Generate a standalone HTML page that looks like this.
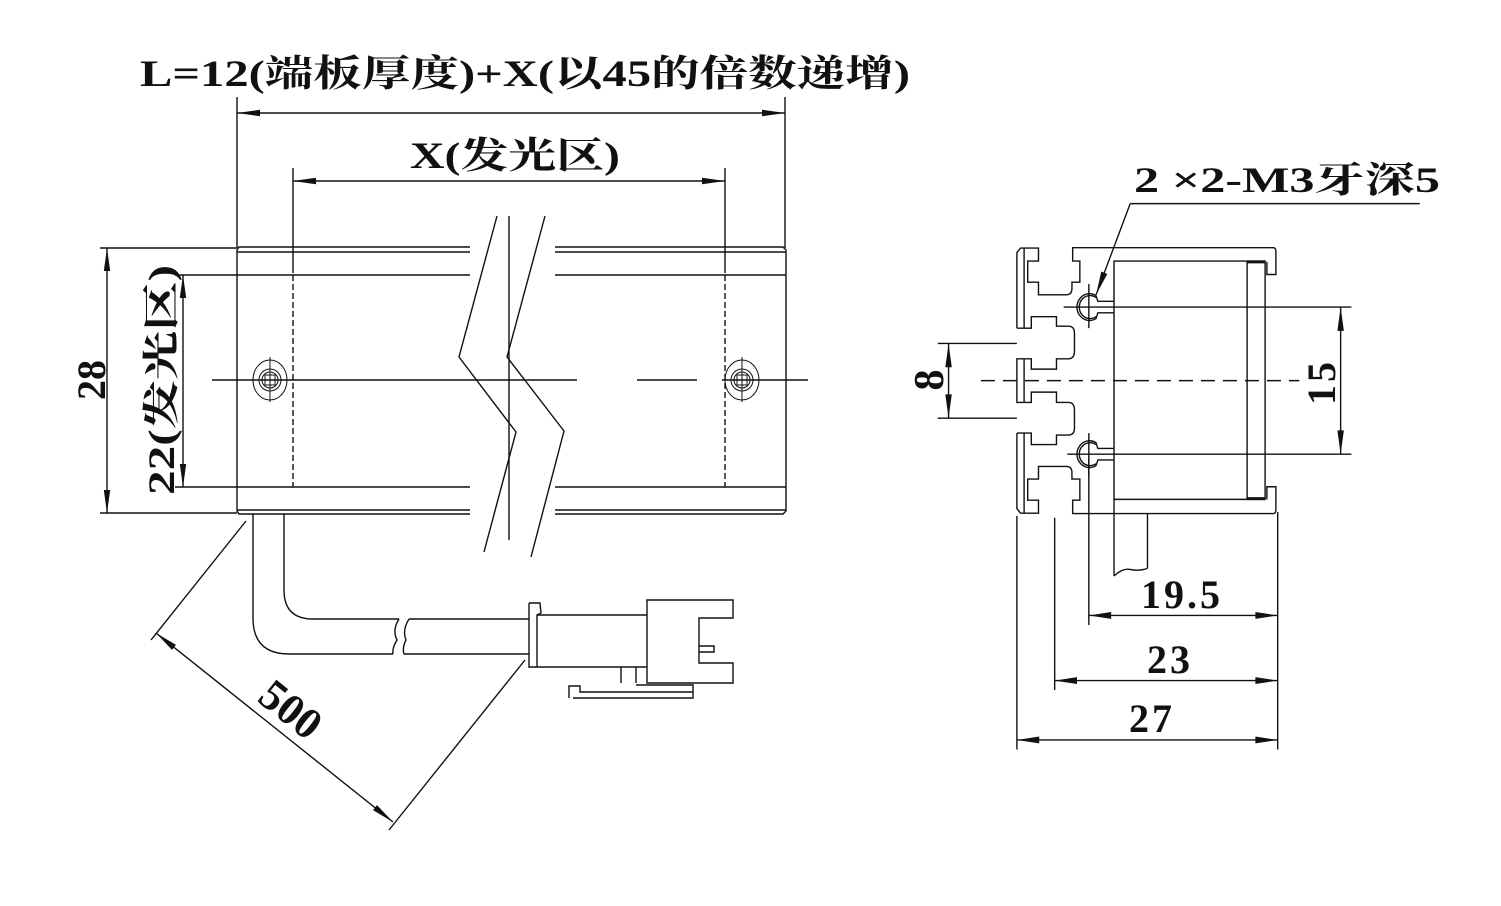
<!DOCTYPE html>
<html><head><meta charset="utf-8">
<style>
html,body{margin:0;padding:0;background:#fff;}
svg{display:block;}
text{font-family:"Liberation Serif","Noto Serif CJK SC",serif;font-weight:bold;fill:#111;}
</style></head>
<body>
<svg width="1501" height="906" viewBox="0 0 1501 906" xmlns="http://www.w3.org/2000/svg">
<defs>
<marker id="a" markerUnits="userSpaceOnUse" markerWidth="30" markerHeight="12" viewBox="0 -6 24 12" refX="23" refY="0" orient="auto-start-reverse">
<path d="M0,-3.2 L23,0 L0,3.2 Z" fill="#111"/></marker>
<marker id="az" markerUnits="userSpaceOnUse" markerWidth="80" markerHeight="30" viewBox="0 -15 64 30" refX="62" refY="0" orient="auto-start-reverse">
<path d="M0,-9 L62,0 L0,9 Z" fill="#111"/></marker>
</defs>
<g fill="none" stroke="#111" stroke-width="1.4">
<line x1="237" y1="97" x2="237" y2="248"/>
<line x1="785" y1="97" x2="785" y2="248"/>
<line x1="237" y1="113" x2="785" y2="113" marker-start="url(#a)" marker-end="url(#a)"/>
<line x1="293" y1="168" x2="293" y2="273"/>
<line x1="725" y1="168" x2="725" y2="273"/>
<line x1="293" y1="181" x2="725" y2="181" marker-start="url(#a)" marker-end="url(#a)"/>
<path d="M237,250 L239,247 L783,247 L786,250 L786,511 L783,514 L239,514 L237,511 Z"/>
<line x1="237" y1="252" x2="786" y2="252"/>
<line x1="237" y1="275" x2="786" y2="275"/>
<line x1="237" y1="487" x2="786" y2="487"/>
<line x1="237" y1="510" x2="786" y2="510"/>
<line x1="293" y1="275" x2="293" y2="487" stroke-dasharray="6,3"/>
<line x1="725" y1="275" x2="725" y2="487" stroke-dasharray="6,3"/>
<line x1="100" y1="248" x2="237" y2="248"/>
<line x1="100" y1="513" x2="237" y2="513"/>
<line x1="107" y1="248" x2="107" y2="513" marker-start="url(#a)" marker-end="url(#a)"/>
<line x1="175" y1="275" x2="237" y2="275"/>
<line x1="175" y1="487" x2="237" y2="487"/>
<line x1="183" y1="275" x2="183" y2="487" marker-start="url(#a)" marker-end="url(#a)"/>
<g stroke-width="1">
<ellipse cx="270" cy="380" rx="17" ry="20"/><circle cx="270" cy="380" r="11"/><circle cx="270" cy="380" r="8"/><rect x="265" y="375" width="10" height="10"/>
<line x1="270" y1="357" x2="270" y2="402"/>
<ellipse cx="742" cy="380" rx="17" ry="20"/><circle cx="742" cy="380" r="11"/><circle cx="742" cy="380" r="8"/><rect x="737" y="375" width="10" height="10"/>
<line x1="742" y1="357" x2="742" y2="402"/>
</g>
<rect x="470" y="214" width="85" height="345" fill="#fff" stroke="none"/>
<polyline points="497,216 459,357 516,432 484,552"/>
<polyline points="545,216 507,357 564,431 531,557"/>
<line x1="509" y1="216" x2="509" y2="540"/>
<line x1="212" y1="380" x2="577" y2="380"/>
<line x1="637" y1="380" x2="697" y2="380"/>
<line x1="722" y1="380" x2="808" y2="380"/>
<path d="M253,514 L253,618 Q253,654 289,654 L393,654"/>
<path d="M284,514 L284,590 Q284,619 313,619 L399,619"/>
<path d="M399,619 Q392,630 397,640 Q392,648 393,654"/>
<path d="M409,619 Q402,630 406,640 Q402,648 404,654"/>
<line x1="409" y1="619" x2="529" y2="619"/>
<line x1="404" y1="654" x2="529" y2="654"/>
<path d="M529,603 L540,603 L541,613 L537,615 L537,667 M529,603 L529,667 L647,667"/>
<line x1="537" y1="615" x2="647" y2="615"/>
<path d="M647,600 L733,600 L733,618 L699,618 L699,663 L733,663 L733,683 L647,683 Z"/>
<path d="M699,646 L714,646 L714,652 L699,652"/>
<line x1="621" y1="667" x2="621" y2="683"/>
<line x1="636" y1="667" x2="636" y2="683"/>
<path d="M569,698 L569,686 L580,686 L580,692 L693,692 M573,698 L693,698 L693,685 L636,685"/>
<line x1="246" y1="521" x2="151" y2="640"/>
<line x1="525" y1="660" x2="389" y2="830"/>
<line x1="156" y1="633" x2="393" y2="822" marker-start="url(#a)" marker-end="url(#a)"/>
</g>

<g transform="translate(900,150) scale(0.3597,0.3831)" fill="none" stroke="#111" stroke-width="1.4">
<g>
<g id="half">
<path vector-effect="non-scaling-stroke" d="M325,602 L325,545 L345,545 M345,545 L345,602"/>
<path vector-effect="non-scaling-stroke" d="M325,465 L325,268 L335,256 L345,256 L345,465 L325,465"/>
<path vector-effect="non-scaling-stroke" d="M345,256 L385,256 L385,290 L355,290 L355,345 L385,345 L385,378 L462,378 Q478,378 478,362 L478,345 L500,345 L500,290 L480,290 L480,255 L1038,255 Q1045,255 1045,265 L1045,325 L1020,325 L1020,292"/>
<path vector-effect="non-scaling-stroke" d="M345,465 L365,465 L365,435 L435,435 L435,460 L468,460 Q485,460 485,478 L485,525 Q485,545 468,545 L435,545 L435,572 L365,572 L365,545 L345,545"/>
<path vector-effect="non-scaling-stroke" d="M545,385 A30,30 0 1 0 545,435 M545,380 A35,35 0 1 0 545,440 L550,425 L595,425 M545,380 L550,395 L595,395"/>
<line vector-effect="non-scaling-stroke" x1="525" y1="350" x2="525" y2="465"/>
</g>
<use href="#half" transform="translate(0,1204) scale(1,-1)"/>
</g>
<rect vector-effect="non-scaling-stroke" x="595" y="290" width="420" height="622"/>
<line vector-effect="non-scaling-stroke" x1="965" y1="290" x2="965" y2="912"/>
<line x1="965" y1="292" x2="1015" y2="292" stroke-width="8"/>
<line x1="965" y1="910" x2="1015" y2="910" stroke-width="8"/>
<line vector-effect="non-scaling-stroke" x1="595" y1="912" x2="595" y2="1112"/>
<line vector-effect="non-scaling-stroke" x1="688" y1="950" x2="688" y2="1092"/>
<path vector-effect="non-scaling-stroke" d="M595,1112 Q620,1090 640,1095 Q665,1100 688,1092"/>
<line vector-effect="non-scaling-stroke" x1="455" y1="410" x2="1255" y2="410"/>
<line vector-effect="non-scaling-stroke" x1="465" y1="794" x2="1255" y2="794"/>
<line vector-effect="non-scaling-stroke" x1="225" y1="602" x2="1110" y2="602" stroke-dasharray="14,8"/>
<line vector-effect="non-scaling-stroke" x1="1445" y1="140" x2="640" y2="140"/>
<line vector-effect="non-scaling-stroke" x1="640" y1="140" x2="545" y2="378" marker-end="url(#az)"/>
<line vector-effect="non-scaling-stroke" x1="105" y1="505" x2="325" y2="505"/>
<line vector-effect="non-scaling-stroke" x1="105" y1="700" x2="325" y2="700"/>
<line vector-effect="non-scaling-stroke" x1="135" y1="505" x2="135" y2="700" marker-start="url(#az)" marker-end="url(#az)"/>
<line vector-effect="non-scaling-stroke" x1="1225" y1="410" x2="1225" y2="794" marker-start="url(#az)" marker-end="url(#az)"/>
<line vector-effect="non-scaling-stroke" x1="525" y1="800" x2="525" y2="1240"/>
<line vector-effect="non-scaling-stroke" x1="430" y1="960" x2="430" y2="1410"/>
<line vector-effect="non-scaling-stroke" x1="325" y1="955" x2="325" y2="1565"/>
<line vector-effect="non-scaling-stroke" x1="1050" y1="945" x2="1050" y2="1565"/>
<line vector-effect="non-scaling-stroke" x1="525" y1="1215" x2="1050" y2="1215" marker-start="url(#az)" marker-end="url(#az)"/>
<line vector-effect="non-scaling-stroke" x1="430" y1="1385" x2="1050" y2="1385" marker-start="url(#az)" marker-end="url(#az)"/>
<line vector-effect="non-scaling-stroke" x1="325" y1="1540" x2="1050" y2="1540" marker-start="url(#az)" marker-end="url(#az)"/>
</g>

<text x="525" y="86" font-size="37" text-anchor="middle" textLength="770" lengthAdjust="spacingAndGlyphs">L=12(端板厚度)+X(以45的倍数递增)</text>
<text x="515" y="168" font-size="37" text-anchor="middle" textLength="210" lengthAdjust="spacingAndGlyphs">X(发光区)</text>
<text transform="translate(105,380) rotate(-90)" font-size="40" text-anchor="middle">28</text>
<text transform="translate(174,380) rotate(-90)" font-size="37" text-anchor="middle" textLength="230" lengthAdjust="spacingAndGlyphs">22(发光区)</text>
<text transform="translate(288,713) rotate(38.6)" font-size="44" text-anchor="middle" dominant-baseline="middle">500</text>
<text x="1287" y="192" font-size="36" text-anchor="middle" textLength="306" lengthAdjust="spacingAndGlyphs">2 ×2-M3牙深5</text>
<text transform="translate(943,380) rotate(-90)" font-size="42" text-anchor="middle">8</text>
<text transform="translate(1335,382) rotate(-90)" font-size="40" text-anchor="middle" letter-spacing="3">15</text>
<text x="1182" y="608" font-size="40" text-anchor="middle" letter-spacing="3">19.5</text>
<text x="1170" y="673" font-size="40" text-anchor="middle" letter-spacing="3">23</text>
<text x="1152" y="732" font-size="40" text-anchor="middle" letter-spacing="3">27</text>
</svg>
</body></html>
